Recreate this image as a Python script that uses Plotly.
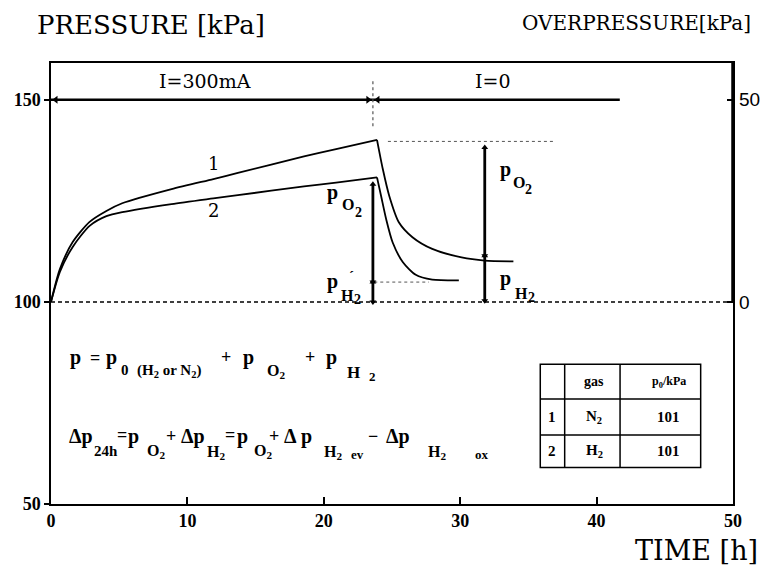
import plotly.graph_objects as go

# ---------------- data ----------------
# curve 1 (N2), charging phase and rest phase
c1_t_on = [0, 0.65, 1.59, 2.83, 4.06, 5.22, 8.84, 11.9, 13.7, 18.55, 20.9, 23.9]
c1_p_on = [100, 108.1, 114.8, 119.8, 122.5, 124.4, 127.9, 130.4, 131.9, 136.0, 137.8, 140.1]
c1_t_off = [23.9, 24.33, 24.8, 25.5, 26.5, 27.95, 30.1, 31.8, 33.9]
c1_p_off = [140.1, 132.8, 126.2, 119.7, 116.0, 113.1, 111.0, 110.2, 110.0]
# curve 2 (H2)
c2_t_on = [0, 0.65, 1.59, 2.83, 4.06, 5.22, 8.84, 11.9, 13.7, 18.55, 20.9, 23.9]
c2_p_on = [100, 107.4, 113.6, 118.8, 121.2, 122.2, 124.2, 125.6, 126.4, 128.6, 129.5, 130.8]
c2_t_off = [23.9, 24.2, 24.57, 25.05, 25.8, 26.74, 27.95, 29.9]
c2_p_off = [130.8, 126.2, 120.5, 114.7, 109.8, 106.7, 105.5, 105.3]

# current bar (I=300mA until switch-off, I=0 afterwards)
t_switch = 23.6
t_bar_end = 41.7
p_bar = 150
# left arrows (p_O2 and p_H2' for curve 2)
arrowL_t = 23.6
arrowL_p = [129.1, 104.9, 100.0]
# right arrows (p_O2 and p_H2 for curve 1)
arrowR_t = 31.8
arrowR_p = [138.2, 111.4, 100.3]
# dotted guide lines
guide_top_t = [24.7, 36.9]
guide_top_p = 139.7
guide_low_t = [23.7, 27.7]
guide_low_p = 104.9
p_base = 100

# table
tbl_ids = ["1", "2"]
tbl_gas = ["N<sub>2</sub>", "H<sub>2</sub>"]
tbl_p0 = ["101", "101"]

x_ticks = [0, 10, 20, 30, 40, 50]
y_ticks = [50, 100, 150]
y2_ticks = [0, 50]

# ---------------- figure ----------------
BLACK = "#000000"
SERIF = "DejaVu Serif"
BOLD = "Liberation Serif"
W, H = 772, 571
ML, MR, MT, MB = 51, 31, 63, 67
PW, PH = W - ML - MR, H - MT - MB

fig = go.Figure()

def line(x, y, width=1.8, dash="solid", color=BLACK, shape="linear", smoothing=None):
    ln = dict(color=color, width=width, dash=dash, shape=shape)
    if smoothing is not None:
        ln["smoothing"] = smoothing
    fig.add_trace(go.Scatter(x=x, y=y, mode="lines", line=ln, hoverinfo="skip", showlegend=False))

# baseline (overpressure zero)
line([0, 50], [p_base, p_base], width=1.5, dash="4px,3px")

# curves
line(c1_t_on, c1_p_on, shape="spline", smoothing=0.7)
line(c1_t_off, c1_p_off, shape="spline", smoothing=0.7)
line(c2_t_on, c2_p_on, shape="spline", smoothing=0.7)
line(c2_t_off, c2_p_off, shape="spline", smoothing=0.7)

# current bar
line([0, t_bar_end], [p_bar, p_bar], width=2.6)
fig.add_trace(go.Scatter(x=[0.35, t_switch - 0.35, t_switch + 0.35], y=[p_bar] * 3, mode="markers",
                         marker=dict(symbol=["triangle-left", "triangle-right", "triangle-left"], size=7, color=BLACK),
                         hoverinfo="skip", showlegend=False))
line([t_switch, t_switch], [154.6, 142.7], width=1.2, dash="dot", color="#555555")

# guide lines
line(guide_top_t, [guide_top_p] * 2, width=1, dash="dot", color="#555555")
line(guide_low_t, [guide_low_p] * 2, width=1, dash="dot", color="#555555")

# vertical arrows
for t, ps in ((arrowL_t, arrowL_p), (arrowR_t, arrowR_p)):
    line([t, t], [ps[0], ps[2]], width=2.8)
    fig.add_trace(go.Scatter(x=[t] * 4, y=[ps[0], ps[1], ps[1], ps[2]], mode="markers",
                             marker=dict(symbol=["triangle-up", "triangle-down", "triangle-up", "triangle-down"],
                                         size=6, color=BLACK),
                             hoverinfo="skip", showlegend=False))

# invisible trace for the right axis
fig.add_trace(go.Scatter(x=[0], y=[0], yaxis="y2", mode="markers", marker=dict(opacity=0),
                         hoverinfo="skip", showlegend=False))

# thick right frame segment (overpressure axis)
fig.add_shape(type="line", xref="x domain", yref="y", x0=1, x1=1, y0=p_base, y1=159.1,
              line=dict(color=BLACK, width=3.5))

# table
tx = [35.87, 37.66, 41.72, 47.63]
ty = [84.6, 76.0, 67.1, 59.0]
fig.add_shape(type="rect", x0=tx[0], x1=tx[3], y0=ty[3], y1=ty[0], line=dict(color=BLACK, width=1.5))
for xv in tx[1:3]:
    fig.add_shape(type="line", x0=xv, x1=xv, y0=ty[3], y1=ty[0], line=dict(color=BLACK, width=1.5))
for yv in ty[1:3]:
    fig.add_shape(type="line", x0=tx[0], x1=tx[3], y0=yv, y1=yv, line=dict(color=BLACK, width=1.5))

def ann(text, x, y, size=16, family=BOLD, xanchor="center", yanchor="middle", xref="x", yref="y", color=BLACK):
    fig.add_annotation(text=text, x=x, y=y, xref=xref, yref=yref, showarrow=False,
                       xanchor=xanchor, yanchor=yanchor, font=dict(family=family, size=size, color=color))

def pix(text, px, py, size, family=BOLD, bold=True):
    """Place a text piece with its left edge at pixel px and vertical centre at pixel py."""
    t = "<b>" + text + "</b>" if bold else text
    fig.add_annotation(text=t, x=(px - ML) / PW, y=(H - MB - py) / PH, xref="paper", yref="paper",
                       showarrow=False, xanchor="left", yanchor="middle",
                       font=dict(family=family, size=size, color=BLACK))

col_c = [(tx[0] + tx[1]) / 2, (tx[1] + tx[2]) / 2 + 0.15, 45.3]
row_c = [(ty[0] + ty[1]) / 2, (ty[1] + ty[2]) / 2, (ty[2] + ty[3]) / 2]
ann("<b>gas</b>", col_c[1], row_c[0], size=14)
ann("<b>p<sub>0</sub>/kPa</b>", col_c[2], row_c[0], size=12)
for i in range(2):
    ann("<b>" + tbl_ids[i] + "</b>", col_c[0], row_c[i + 1], size=15)
    ann("<b>" + tbl_gas[i] + "</b>", col_c[1], row_c[i + 1], size=15)
    ann("<b>" + tbl_p0[i] + "</b>", col_c[2], row_c[i + 1], size=15)

# curve labels
ann("1", 11.9, 134.2, size=18, family=SERIF)
ann("2", 11.9, 122.6, size=18, family=SERIF)

# current labels
ann("I=300mA", 11.3, 154.6, size=19, family=SERIF)
ann("I=0", 32.4, 154.6, size=19, family=SERIF)

# partial pressure labels (pieces: main letter, subscript, sub-subscript)
for parts in (
    [("p", 328, 192, 20), ("O", 343, 205, 16), ("2", 357, 212, 14)],
    [("p", 328, 281, 20), ("H", 342, 295, 16), ("2", 356, 299, 14), ("\u00b4", 350, 276, 15)],
    [("p", 503, 169, 20), ("O", 516, 182, 16), ("2", 529, 189, 14)],
    [("p", 503, 278, 20), ("H", 518, 293, 16), ("2", 532, 297, 14)],
):
    for txt, px, py, sz in parts:
        pix(txt, px, py, sz)

# equation 1: p = p0 (H2 or N2) + pO2 + pH2
for txt, px, py, sz in [
    ("p", 68, 357, 20), ("=", 88, 358, 18), ("p", 105, 357, 20),
    ("0", 120, 370, 15), ("(H<sub>2</sub> or N<sub>2</sub>)", 136, 371, 15),
    ("+", 221, 357, 18), ("p", 243, 357, 20), ("O<sub>2</sub>", 268, 371, 16),
    ("+", 306, 357, 18), ("p", 327, 357, 20), ("H", 348, 372, 17), ("2", 371, 376, 13),
]:
    pix(txt, px, py, sz)

# equation 2: Δp24h = pO2 + ΔpH2 = pO2 + ΔpH2ev − ΔpH2ox
for txt, px, py, sz in [
    ("\u0394p", 67, 436, 20), ("24h", 92, 451, 15), ("=", 116, 435, 18),
    ("p", 127, 436, 20), ("O<sub>2</sub>", 146, 451, 16), ("+", 165, 436, 18),
    ("\u0394p", 180, 436, 20), ("H<sub>2</sub>", 207, 452, 16), ("=", 225, 435, 18),
    ("p", 237, 436, 20), ("O<sub>2</sub>", 254, 451, 16), ("+", 270, 436, 18),
    ("\u0394", 285, 436, 20), ("p", 302, 436, 20), ("H<sub>2</sub>", 325, 452, 16), ("ev", 352, 454, 13),
    ("\u2212", 370, 436, 18), ("\u0394p", 388, 436, 20), ("H<sub>2</sub>", 430, 452, 16), ("ox", 478, 454, 13),
]:
    pix(txt, px, py, sz)

# axis titles
ann("PRESSURE [kPa]", -0.023, 1.086, size=26, family=SERIF, xanchor="left", xref="paper", yref="paper")
ann("OVERPRESSURE[kPa]", 1.030, 1.091, size=20, family=SERIF, xanchor="right", xref="paper", yref="paper")
ann("TIME [h]", 1.04, -0.106, size=27, family=SERIF, xanchor="right", xref="paper", yref="paper")

fig.update_layout(
    width=W, height=H,
    margin=dict(l=ML, r=MR, t=MT, b=MB),
    paper_bgcolor="white", plot_bgcolor="white",
    showlegend=False,
    xaxis=dict(range=[0, 50], tickvals=x_ticks, ticks="inside", ticklen=7, tickwidth=1.5, tickcolor=BLACK,
               showline=True, linewidth=1.5, linecolor=BLACK, mirror=True, showgrid=False, zeroline=False,
               tickfont=dict(family=BOLD, size=18, color=BLACK, weight="bold")),
    yaxis=dict(range=[50, 159.1], tickvals=y_ticks, ticks="outside", ticklen=5, tickwidth=1.5, tickcolor=BLACK,
               showline=True, linewidth=1.5, linecolor=BLACK, mirror=True, showgrid=False, zeroline=False,
               tickfont=dict(family=BOLD, size=18, color=BLACK, weight="bold")),
    yaxis2=dict(overlaying="y", side="right", range=[-50, 59.1], tickvals=y2_ticks, ticks="inside",
                ticklen=6, tickwidth=1.5, tickcolor=BLACK, showline=False, showgrid=False, zeroline=False,
                ticklabelstandoff=5,
                tickfont=dict(family="Liberation Sans", size=19, color=BLACK)),
)

fig.write_html("out.html")
